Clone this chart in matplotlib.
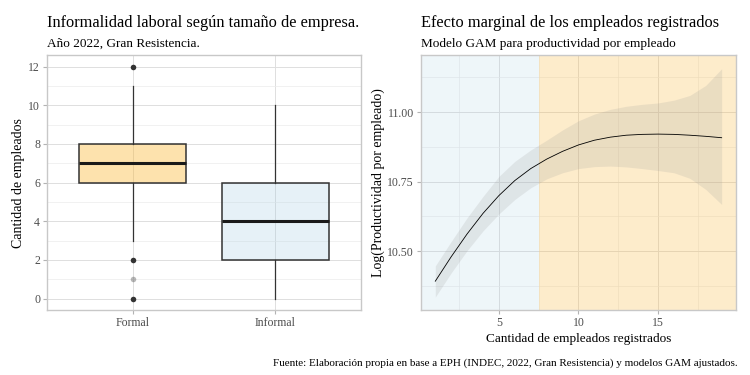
import matplotlib.pyplot as plt
import numpy as np
from matplotlib.ticker import MultipleLocator

plt.rcParams["font.family"] = ["Liberation Serif", "DejaVu Serif"]

# ---- data ----
categorias = ["Formal", "Informal"]
q1 = [6, 2]
mediana = [7, 4]
q3 = [8, 6]
bigote_inf = [3, 0]
bigote_sup = [11, 10]
outliers_formal = [12, 2, 1, 0]
outliers_alpha = [1.0, 1.0, 0.35, 1.0]

empleados = [1, 2, 3, 4, 5, 6, 7, 8, 9, 10, 11, 12, 13, 14, 15, 16, 17, 18, 19]
ajuste = [10.392, 10.480, 10.562, 10.636, 10.700, 10.754, 10.797, 10.831, 10.859, 10.882,
          10.899, 10.910, 10.917, 10.920, 10.921, 10.920, 10.917, 10.913, 10.908]
ic_sup = [10.447, 10.535, 10.620, 10.697, 10.769, 10.823, 10.864, 10.899, 10.936, 10.969,
          10.993, 11.010, 11.021, 11.028, 11.033, 11.043, 11.060, 11.096, 11.156]
ic_inf = [10.335, 10.422, 10.502, 10.573, 10.634, 10.686, 10.728, 10.760, 10.782, 10.797,
          10.804, 10.806, 10.803, 10.797, 10.790, 10.782, 10.762, 10.722, 10.668]
corte = 7.5

azul = "#9ECAE1"
naranja = "#FBB733"
grid_major = "#DEDEDE"
grid_minor = "#EBEBEB"
tick_col = "#4D4D4D"


def estilo(ax):
    for s in ax.spines.values():
        s.set_color("#C8C8C8")
        s.set_linewidth(1.0)
    ax.tick_params(axis="both", which="major", colors="#B3B3B3", labelcolor=tick_col,
                   labelsize=8.5, length=3, width=0.8, pad=2)
    ax.tick_params(axis="both", which="minor", length=0)
    ax.grid(True, which="major", color=grid_major, lw=0.7)
    ax.grid(True, which="minor", color=grid_minor, lw=0.5)
    ax.set_axisbelow(True)


fig = plt.figure(figsize=(7.5, 3.75), dpi=100)

# ---- left panel: boxplot ----
ax1 = fig.add_axes([0.0627, 0.173, 0.4183, 0.680])
estilo(ax1)
stats = []
for i, c in enumerate(categorias):
    stats.append(dict(label=c, q1=q1[i], med=mediana[i], q3=q3[i],
                      whislo=bigote_inf[i], whishi=bigote_sup[i], fliers=[]))
pos = np.arange(1, len(categorias) + 1)
bp = ax1.bxp(stats, positions=pos, widths=0.75, patch_artist=True, showfliers=False,
             showcaps=False,
             boxprops=dict(edgecolor="#333333", linewidth=1.1),
             medianprops=dict(color="#1a1a1a", linewidth=2.2),
             whiskerprops=dict(color="#333333", linewidth=0.9))
bp["boxes"][0].set_facecolor((*plt.matplotlib.colors.to_rgb(naranja), 0.4))
bp["boxes"][1].set_facecolor((*plt.matplotlib.colors.to_rgb(azul), 0.25))
for y, a in zip(outliers_formal, outliers_alpha):
    ax1.scatter(pos[0], y, s=16, color="#333333", alpha=a, zorder=3, linewidths=0)
ax1.set_xlim(0.4, 2.6)
ax1.set_ylim(-0.6, 12.6)
ax1.yaxis.set_major_locator(MultipleLocator(2))
ax1.yaxis.set_minor_locator(MultipleLocator(1))
ax1.set_xticks(pos)
ax1.set_xticklabels(categorias)
ax1.set_ylabel("Cantidad de empleados", fontsize=10, labelpad=2)
ax1.text(0, 1.11, "Informalidad laboral según tamaño de empresa.", transform=ax1.transAxes,
         fontsize=11.8, ha="left", va="baseline")
ax1.text(0, 1.031, "Año 2022, Gran Resistencia.", transform=ax1.transAxes,
         fontsize=9.5, ha="left", va="baseline")

# ---- right panel: GAM effect ----
ax2 = fig.add_axes([0.5613, 0.173, 0.4200, 0.680])
estilo(ax2)
ax2.axvspan(-5, corte, color=azul, alpha=0.17, lw=0, zorder=1)
ax2.axvspan(corte, 30, color=naranja, alpha=0.25, lw=0, zorder=1)
ax2.fill_between(empleados, ic_inf, ic_sup, color="#999999", alpha=0.18, lw=0, zorder=2)
ax2.plot(empleados, ajuste, color="black", lw=0.6, zorder=3)
ax2.set_xlim(0.1, 19.9)
ax2.set_ylim(10.288, 11.205)
ax2.xaxis.set_major_locator(MultipleLocator(5))
ax2.xaxis.set_minor_locator(MultipleLocator(2.5))
ax2.yaxis.set_major_locator(MultipleLocator(0.25))
ax2.yaxis.set_minor_locator(MultipleLocator(0.125))
ax2.yaxis.set_major_formatter(plt.FormatStrFormatter("%.2f"))
ax2.set_xlabel("Cantidad de empleados registrados", fontsize=9.5, labelpad=3)
ax2.set_ylabel("Log(Productividad por empleado)", fontsize=10, labelpad=2)
ax2.text(0, 1.11, "Efecto marginal de los empleados registrados", transform=ax2.transAxes,
         fontsize=11.8, ha="left", va="baseline")
ax2.text(0, 1.031, "Modelo GAM para productividad por empleado", transform=ax2.transAxes,
         fontsize=9.5, ha="left", va="baseline")

fig.text(0.984, 0.02, "Fuente: Elaboración propia en base a EPH (INDEC, 2022, Gran Resistencia) y modelos GAM ajustados.",
         ha="right", va="bottom", fontsize=8)

fig.savefig("out.png", dpi=100)
